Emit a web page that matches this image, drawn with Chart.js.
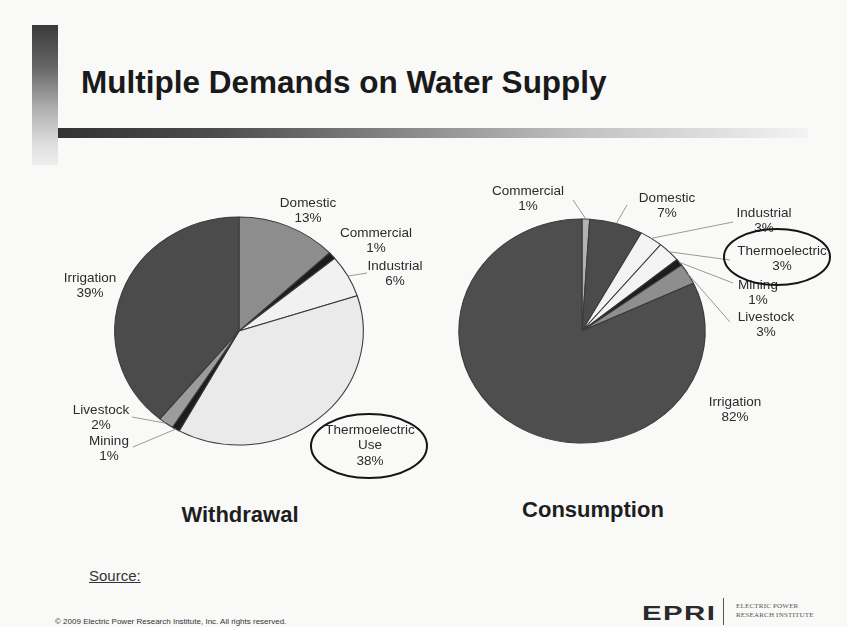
<!DOCTYPE html>
<html>
<head>
<meta charset="utf-8">
<title>Multiple Demands on Water Supply</title>
<script src="https://cdn.jsdelivr.net/npm/chart.js@4.4.1/dist/chart.umd.min.js"></script>
<style>
  html, body { margin: 0; padding: 0; }
  body {
    width: 847px; height: 627px; position: relative; overflow: hidden;
    background: #f9f9f8;
    font-family: "Liberation Sans", Arial, sans-serif; color: #222;
  }
  .abs { position: absolute; line-height: 1; white-space: nowrap; }
  #sideBar {
    left: 32px; top: 25px; width: 26px; height: 140px;
    background: linear-gradient(to bottom, #3a3a3a 0%, #666 30%, #b0b0b0 60%, #dedede 85%, #eeeeee 100%);
  }
  #ruleBar {
    left: 58px; top: 128px; width: 750px; height: 10px;
    background: linear-gradient(to right, #333 0%, #4a4a4a 20%, #858585 45%, #c2c2c2 70%, #f3f3f3 100%);
  }
  #title { left: 81px; top: 67px; font-size: 31.5px; font-weight: bold; color: #1a1a1a; }
  .sub { font-size: 22px; font-weight: bold; width: 240px; text-align: center; color: #1e1e1e; }
  #source { left: 89px; top: 568px; font-size: 15px; text-decoration: underline; color: #333; }
  #copy { left: 55px; top: 618px; font-size: 8px; color: #333; }
  #epri {
    left: 642px; top: 602px; font-size: 21px; font-weight: bold; color: #2a2a2a;
    letter-spacing: 1px; transform: scaleX(1.4); transform-origin: left top;
  }
  #epriRule { left: 723px; top: 598px; width: 1px; height: 27px; background: #555; }
  .inst { left: 736px; font-size: 7px; color: #555; letter-spacing: 0.2px; font-family: "Liberation Serif", serif; }
  canvas { position: absolute; left: 0; top: 0; }
</style>
</head>
<body>
<div class="abs" id="sideBar"></div>
<div class="abs" id="ruleBar"></div>
<div class="abs" id="title">Multiple Demands on Water Supply</div>
<div class="abs sub" style="left:120px; top:504px;">Withdrawal</div>
<div class="abs sub" style="left:473px; top:499px;">Consumption</div>
<div class="abs" id="source">Source:</div>
<div class="abs" id="copy">© 2009 Electric Power Research Institute, Inc. All rights reserved.</div>
<div class="abs" id="epri">EPRI</div>
<div class="abs" id="epriRule"></div>
<div class="abs inst" style="top:603px;">ELECTRIC POWER</div>
<div class="abs inst" style="top:612px;">RESEARCH INSTITUTE</div>

<canvas id="withdrawalPie" width="847" height="627"></canvas>
<canvas id="consumptionPie" width="847" height="627"></canvas>

<script>
// withdrawal shares, clockwise from 12 o'clock
var withdrawalLabels = ['Domestic', 'Commercial', 'Industrial', ['Thermoelectric', 'Use'], 'Mining', 'Livestock', 'Irrigation'];
var withdrawalValues = [13, 1, 6, 38, 1, 2, 39];

// consumption shares, clockwise from 12 o'clock
var consumptionLabels = ['Commercial', 'Domestic', 'Industrial', 'Thermoelectric', 'Mining', 'Livestock', 'Irrigation'];
var consumptionValues = [1, 7, 3, 3, 1, 3, 82];

var withdrawalColors = ['#8d8d8d', '#1c1c1c', '#f1f1f1', '#eaeaea', '#1c1c1c', '#9c9c9c', '#4b4b4b'];
var consumptionColors = ['#b2b2b2', '#4b4b4b', '#f3f3f3', '#f3f3f3', '#1c1c1c', '#8e8e8e', '#4e4e4e'];

// label text spots and leader ends, offsets from the pie centre
var withdrawalTextAt = [[69, -128], [137, -98], [156, -65], [131, 99], [-130, 110], [-138, 79], [-149, -53]];
var withdrawalLeaderTo = [null, null, [128, -58], null, [-106, 116], [-107, 86], null];
var consumptionTextAt = [[-54, -140], [85, -133], [182, -118], [200, -80], [176, -46], [184, -14], [153, 71]];
var consumptionLeaderTo = [[-9, -131], [45, -126], [151, -109], [148, -71], [151, -48], [148, -9], null];

function makePie(canvasId, labels, values, colors, look) {
    // squash the round pie into the slightly wide oval of the slide
    var oval = {
        id: 'oval',
        beforeDatasetsDraw(chart) {
            var arc = chart.getDatasetMeta(0).data[0];
            var ctx = chart.ctx;
            ctx.save();
            ctx.translate(arc.x, arc.y);
            ctx.scale(look.stretch, 1);
            ctx.translate(-arc.x, -arc.y);
        },
        afterDatasetsDraw(chart) {
            chart.ctx.restore();
        }
    };

    var sliceLabels = {
        id: 'sliceLabels',
        afterDraw(chart) {
            var ctx = chart.ctx;
            var arcs = chart.getDatasetMeta(0).data;
            var cx = arcs[0].x, cy = arcs[0].y;
            ctx.save();
            ctx.font = '13.5px "Liberation Sans", Arial, sans-serif';
            ctx.textAlign = 'center';
            ctx.textBaseline = 'middle';

            arcs.forEach(function (arc, i) {
                var to = look.leaderTo[i];
                if (to) {
                    var mid = (arc.startAngle + arc.endAngle) / 2;
                    ctx.beginPath();
                    ctx.moveTo(cx + Math.cos(mid) * arc.outerRadius * look.stretch, cy + Math.sin(mid) * arc.outerRadius);
                    ctx.lineTo(cx + to[0], cy + to[1]);
                    ctx.strokeStyle = '#999';
                    ctx.lineWidth = 1;
                    ctx.stroke();
                }
                var lines = [].concat(chart.data.labels[i], chart.data.datasets[0].data[i] + '%');
                var at = look.textAt[i];
                ctx.fillStyle = '#2b2b2b';
                lines.forEach(function (t, k) {
                    ctx.fillText(t, cx + at[0], cy + at[1] + k * 15.5);
                });
            });

            // ring around the thermoelectric share
            var r = look.ring;
            ctx.beginPath();
            ctx.ellipse(cx + r.dx, cy + r.dy, r.rx, r.ry, 0, 0, Math.PI * 2);
            ctx.strokeStyle = '#151515';
            ctx.lineWidth = 2;
            ctx.stroke();
            ctx.restore();
        }
    };

    return new Chart(document.getElementById(canvasId), {
        type: 'pie',
        data: {
            labels: labels,
            datasets: [{
                data: values,
                backgroundColor: colors,
                borderColor: '#3a3a3a',
                borderWidth: 1
            }]
        },
        options: {
            responsive: false,
            animation: false,
            radius: look.radius,
            layout: {
                padding: {
                    left: look.cx - 150,
                    right: 847 - look.cx - 150,
                    top: look.cy - 150,
                    bottom: 627 - look.cy - 150
                }
            },
            plugins: {
                legend: { display: false },
                tooltip: { enabled: false }
            }
        },
        plugins: [oval, sliceLabels]
    });
}

const withdrawalChart = makePie('withdrawalPie', withdrawalLabels, withdrawalValues, withdrawalColors, {
    cx: 239, cy: 331, radius: 114, stretch: 1.09,
    textAt: withdrawalTextAt, leaderTo: withdrawalLeaderTo,
    ring: { dx: 130, dy: 115, rx: 58, ry: 32 }
});

const consumptionChart = makePie('consumptionPie', consumptionLabels, consumptionValues, consumptionColors, {
    cx: 582, cy: 331, radius: 112, stretch: 1.1,
    textAt: consumptionTextAt, leaderTo: consumptionLeaderTo,
    ring: { dx: 195, dy: -74, rx: 53, ry: 28 }
});
</script>
</body>
</html>
